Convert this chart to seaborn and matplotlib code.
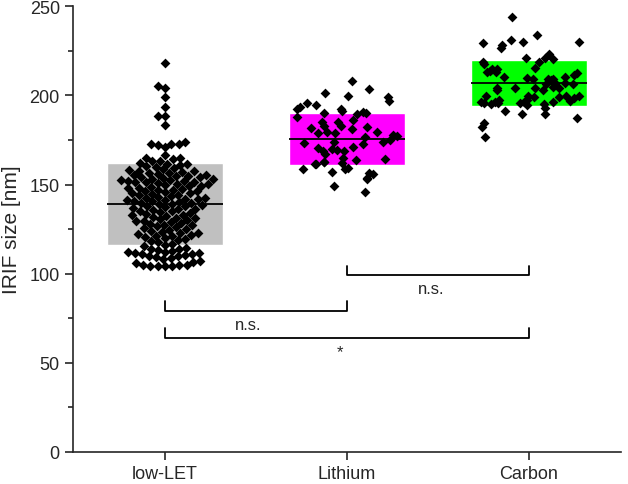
import numpy as np
import pandas as pd
import matplotlib.pyplot as plt
from matplotlib.ticker import MultipleLocator
import seaborn as sns

groups = ["low-LET", "Lithium", "Carbon"]

# IRIF sizes [nm]
low_let = [104.3, 104.4, 104.5, 104.6, 104.7, 104.8, 104.9,
           105.8, 106.6, 107.4, 108.1, 108.7, 109.2, 109.7, 110.1, 110.5, 110.8, 111.1, 111.4,
           111.7, 112.0, 112.4,
           112.9, 113.3, 113.6, 114.1, 114.5, 115.3, 116.1, 116.8, 117.6, 118.2, 118.9, 119.5,
           120.1, 120.4, 120.9, 121.3, 121.8, 122.2, 122.7, 123.1, 123.6, 124.0, 124.6, 125.1,
           125.5, 126.0, 126.6, 127.1, 127.5, 128.0, 128.6, 129.0, 129.4, 129.8,
           130.2, 130.7, 131.1, 131.5, 132.0, 132.4, 132.8, 133.1, 133.7, 134.1, 134.6, 135.0,
           135.4, 135.9, 136.3, 136.5, 136.9, 137.4, 137.8, 138.2, 138.4, 138.9, 139.3, 139.6, 139.9,
           140.3, 140.6, 141.0, 141.2, 141.5, 141.7, 142.1, 142.4, 142.6, 142.9, 143.4, 143.9,
           144.2, 144.6, 145.0, 145.3, 145.8, 146.2, 146.5, 146.8, 147.2, 147.6, 148.0, 148.3,
           148.7, 149.1, 149.4, 149.8,
           150.2, 150.5, 150.9, 151.2, 151.5, 151.7, 151.9, 152.2, 152.4, 152.7, 153.0, 153.3,
           153.7, 154.0, 154.3, 154.7, 155.0, 155.3, 155.6, 155.9, 156.3, 156.7, 157.1, 157.4,
           157.8, 158.0, 158.6, 159.2,
           160.0, 160.4, 160.9, 161.3, 161.8, 162.2, 163.0, 163.2, 164.1, 165.1, 165.1, 166.5,
           170.8, 172.0, 172.6, 172.6, 173.0, 174.0,
           183.3, 188.4, 188.4, 193.6, 199.1, 204.4, 205.4, 218.4]

lithium = [208.2, 203.6, 201.1, 199.8, 198.9, 196.8, 195.5, 194.6, 193.3, 192.3, 192.5, 191.2,
           190.8, 190.3, 189.9, 189.5, 188.0, 186.2, 185.2, 185.0, 183.0, 182.4, 182.6, 181.5,
           180.9, 179.6, 179.4, 179.2, 178.9, 177.8, 177.4, 176.8, 174.9, 174.0, 173.6, 173.1,
           172.5, 171.2, 170.2, 170.6, 169.3, 169.0, 168.8, 166.9, 164.7, 164.3, 163.8, 162.8,
           162.5, 161.9, 161.3, 161.6, 159.4, 159.0, 158.5, 156.8, 156.4, 155.7, 153.4, 153.0,
           149.1, 145.6]

carbon = [244.2, 233.9, 231.1, 230.2, 229.3, 228.3, 230.2, 226.4, 223.0, 221.2, 220.2, 221.2,
          218.5, 218.9, 217.9, 214.8, 214.8, 213.3, 213.7, 215.6, 212.9, 212.4,
          209.1, 209.1, 208.6, 210.4, 211.4, 210.4, 209.1, 209.8, 206.8, 206.8, 206.2, 206.5,
          203.0, 203.9, 203.9, 203.0, 204.3, 204.5, 203.9,
          199.8, 199.8, 199.2, 199.8, 199.8, 198.7, 199.2,
          197.3, 196.4, 197.3, 196.4, 195.5, 196.8,
          195.0, 195.0, 195.5, 196.1, 195.5, 196.1, 192.7, 194.6,
          191.2, 189.4, 187.5, 189.4, 184.3, 182.4, 176.8]

# mean +/- SD boxes as drawn in the figure
box_mean = [139.3, 175.8, 206.7]
box_sd = [23.0, 14.6, 12.9]
box_colors = ["#c0c0c0", "#ff00ff", "#00ff00"]

# (group a, group b, bracket level, label)
comparisons = [(1, 2, 99.0, "n.s."), (0, 1, 79.2, "n.s."), (0, 2, 64.0, "*")]

sns.set_style("ticks")
plt.rcParams['font.family'] = ['Liberation Sans', 'DejaVu Sans']

df_low = pd.DataFrame({"group": "low-LET", "size": low_let})
df_ion = pd.concat([pd.DataFrame({"group": "Lithium", "size": lithium}),
                    pd.DataFrame({"group": "Carbon", "size": carbon})])

fig = plt.figure(figsize=(6.28, 4.85), dpi=100)
ax = fig.add_axes([0.1162, 0.066, 0.8726, 0.919])

pos = np.arange(len(groups))
mean = np.array(box_mean)
sd = np.array(box_sd)
ax.bar(pos, 2 * sd, bottom=mean - sd, width=0.64, color=box_colors, zorder=1)
ax.hlines(mean, pos - 0.32, pos + 0.32, color="black", lw=1.3, zorder=2)

sns.swarmplot(data=df_low, x="group", y="size", order=groups, marker="D", color="black",
              size=5, linewidth=0, ax=ax, zorder=3)
np.random.seed(3)
sns.stripplot(data=df_ion, x="group", y="size", order=groups, marker="D", color="black",
              size=5, linewidth=0, jitter=0.29, ax=ax, zorder=3)

for a, b, level, label in comparisons:
    ax.plot([a, a, b, b], [level + 5.6, level, level, level + 5.6], color="black", lw=1.3)
    ax.text((a + b) / 2 - 0.04, level - 7.5, label, ha="center", va="center", fontsize=12)

ax.set_xlim(-0.505, 2.505)
ax.set_ylim(0, 250)
ax.yaxis.set_major_locator(MultipleLocator(50))
ax.yaxis.set_minor_locator(MultipleLocator(25))
ax.set_xlabel("")
ax.set_ylabel("IRIF size [nm]", fontsize=15, labelpad=6)
ax.tick_params(axis="both", which="major", labelsize=13, length=6, width=1.2, direction="out")
ax.tick_params(axis="y", which="minor", length=3.5, width=1.2, direction="out")
sns.despine(ax=ax)
for s in ["left", "bottom"]:
    ax.spines[s].set_linewidth(1.2)

fig.savefig("out.png", dpi=100)
